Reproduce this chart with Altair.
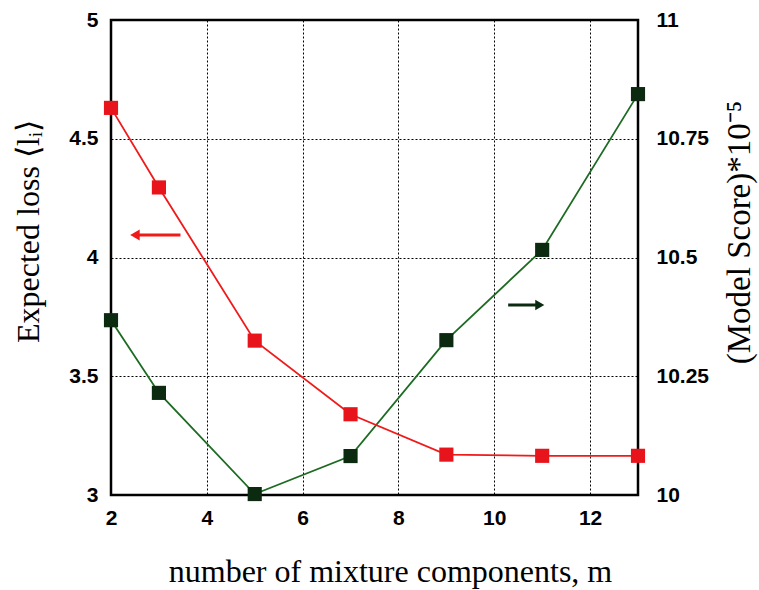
import altair as alt
import pandas as pd

# ---- data ----
m_values = [2, 3, 5, 7, 9, 11, 13]
expected_loss = [4.63, 4.295, 3.65, 3.34, 3.17, 3.165, 3.165]
model_score = [10.368, 10.215, 10.002, 10.082, 10.326, 10.516, 10.844]

# annotation arrows (data units)
red_arrow_x = [3.45, 2.55]      # shaft start, shaft end
red_arrow_head_x = [2.5]
red_arrow_y = [4.095]
green_arrow_x = [10.29, 10.9]
green_arrow_head_x = [10.95]
green_arrow_y = [10.40]

x_ticks = [2, 4, 6, 8, 10, 12]
left_ticks = [3, 3.5, 4, 4.5, 5]
right_ticks = [10, 10.25, 10.5, 10.75, 11]

RED = "#f01a1a"
RED_MARK = "#e8141c"
GREEN = "#1d6b22"
GREEN_MARK = "#0c2a10"

red_df = pd.DataFrame({"m": m_values, "v": expected_loss})
green_df = pd.DataFrame({"m": m_values, "v": model_score})
red_arrow_df = pd.DataFrame({"x": [red_arrow_x[0]], "x2": [red_arrow_x[1]], "y": red_arrow_y})
red_head_df = pd.DataFrame({"x": red_arrow_head_x, "y": red_arrow_y})
green_arrow_df = pd.DataFrame({"x": [green_arrow_x[0]], "x2": [green_arrow_x[1]], "y": green_arrow_y})
green_head_df = pd.DataFrame({"x": green_arrow_head_x, "y": green_arrow_y})

LABEL_EXPR = "toString(datum.value)"

x_scale = alt.Scale(domain=[2, 13], nice=False, zero=False)
x_axis = alt.Axis(
    title="number of mixture components, m",
    values=x_ticks, labelExpr=LABEL_EXPR, grid=True, ticks=False, domain=False,
    labelFlush=False, labelPadding=12, titleX=279, titleY=86, titleAnchor="middle",
    titleAlign="center", titleBaseline="alphabetic", titleFontSize=32,
)

left_scale = alt.Scale(domain=[3, 5], nice=False, zero=False)
left_axis = alt.Axis(
    title="Expected loss ⟨lᵢ⟩", orient="left",
    values=left_ticks, labelExpr=LABEL_EXPR, grid=True, ticks=False, domain=False,
    labelPadding=13, titleAngle=-90, titleX=-83, titleY=211,
    titleAlign="center", titleBaseline="middle", titleFontSize=32,
)
right_scale = alt.Scale(domain=[10, 11], nice=False, zero=False)
right_axis = alt.Axis(
    title="(Model Score)*10⁻⁵", orient="right",
    values=right_ticks, labelExpr=LABEL_EXPR, grid=False, ticks=False, domain=False,
    labelPadding=18, titleAngle=-90, titleX=101, titleY=212,
    titleAlign="center", titleBaseline="middle",
)

def xenc(field):
    return alt.X(f"{field}:Q", scale=x_scale, axis=x_axis)

def ly(field):
    return alt.Y(f"{field}:Q", scale=left_scale, axis=left_axis)

def ry(field):
    return alt.Y(f"{field}:Q", scale=right_scale, axis=right_axis)

red_line = alt.Chart(red_df).mark_line(color=RED, strokeWidth=1.8).encode(x=xenc("m"), y=ly("v"))
red_pts = alt.Chart(red_df).mark_point(shape="square", filled=True, size=200, color=RED_MARK, opacity=1).encode(x=xenc("m"), y=ly("v"))
red_arrow = alt.Chart(red_arrow_df).mark_rule(color=RED, strokeWidth=3).encode(x=xenc("x"), x2="x2:Q", y=ly("y"))
red_head = alt.Chart(red_head_df).mark_point(shape="triangle-left", filled=True, size=120, color=RED, opacity=1).encode(x=xenc("x"), y=ly("y"))

green_line = alt.Chart(green_df).mark_line(color=GREEN, strokeWidth=1.8).encode(x=xenc("m"), y=ry("v"))
green_pts = alt.Chart(green_df).mark_point(shape="square", filled=True, size=200, color=GREEN_MARK, opacity=1).encode(x=xenc("m"), y=ry("v"))
green_arrow = alt.Chart(green_arrow_df).mark_rule(color=GREEN_MARK, strokeWidth=3).encode(x=xenc("x"), x2="x2:Q", y=ry("y"))
green_head = alt.Chart(green_head_df).mark_point(shape="triangle-right", filled=True, size=110, color=GREEN_MARK, opacity=1).encode(x=xenc("x"), y=ry("y"))

left = alt.layer(red_line, red_arrow, red_head, red_pts)
right = alt.layer(green_line, green_arrow, green_head, green_pts)

chart = (
    alt.layer(right, left)
    .resolve_scale(y="independent")
    .properties(
        width=527, height=475,
        autosize=alt.AutoSizeParams(type="none"),
        padding={"left": 111, "top": 20, "right": 121, "bottom": 95},
        background="white",
    )
    .configure_view(stroke="black", strokeWidth=2.5)
    .configure_axis(
        labelFont="Liberation Sans", labelFontSize=21, labelFontWeight="bold", labelColor="black",
        titleFont="Liberation Serif", titleFontSize=33, titleFontWeight="normal", titleColor="black",
        gridColor="black", gridDash=[2, 2], gridWidth=1, gridOpacity=1,
    )
)

chart.save("out.html", embed_options={"renderer": "svg", "actions": False})
